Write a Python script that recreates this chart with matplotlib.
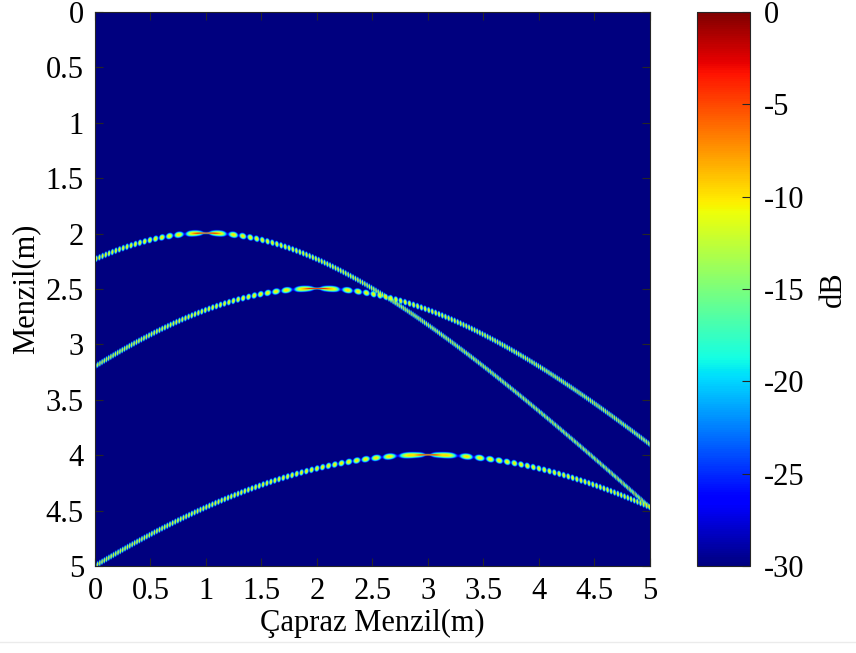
import numpy as np
import matplotlib
matplotlib.use('Agg')
import matplotlib.pyplot as plt
from matplotlib.lines import Line2D

plt.rcParams['font.family'] = ['Liberation Serif', 'DejaVu Serif']
plt.rcParams['axes.unicode_minus'] = False

# point targets (cross range, range) in metres
target_x = [1.0, 2.0, 3.0]
target_r = [2.0, 2.5, 4.0]

# scene / display settings
scene = [0, 5]
x_ticks = [0, 0.5, 1, 1.5, 2, 2.5, 3, 3.5, 4, 4.5, 5]
y_ticks = [0, 0.5, 1, 1.5, 2, 2.5, 3, 3.5, 4, 4.5, 5]
db_ticks = [-30, -25, -20, -15, -10, -5, 0]
db_min, db_max = -30, 0

# range migration image of the raw data
nx, nr = 1200, 1000
xx = np.linspace(scene[0], scene[1], nx)
rr = np.linspace(scene[0], scene[1], nr)
X, Rg = np.meshgrid(xx, rr)

A = np.zeros_like(X)
for x0, r0 in zip(target_x, target_r):
    R = np.sqrt(r0**2 + (X - x0)**2)
    dR = R - r0
    dr = Rg - R
    mod = np.abs(np.cos(np.pi * (dR - 0.0033) / 0.012))
    dip = 1 - 0.97 * np.exp(-((X - x0) / 0.045)**2)
    wide = 0.34 * np.exp(-(dr / 0.021)**2) * (0.15 + 0.85 * mod**2) * dip
    narrow = 0.7 * np.exp(-(dr / 0.005)**2) * np.exp(-((X - x0) / 0.1)**4)
    A = np.maximum(A, wide + narrow)

img = np.clip(20 * np.log10(A + 1e-6), db_min, db_max)

fig = plt.figure(figsize=(8.56, 6.53), dpi=100)
ax = fig.add_axes([0.111, 0.1332, 0.648, 0.8484])
im = ax.imshow(img, cmap='jet', vmin=db_min, vmax=db_max,
               extent=[scene[0], scene[1], scene[1], scene[0]],
               aspect='auto', interpolation='antialiased')
ax.set_xlim(scene)
ax.set_ylim(scene[1], scene[0])
ax.set_xticks(x_ticks)
ax.set_yticks(y_ticks)
ax.set_xticklabels([('%g' % t) for t in x_ticks])
ax.set_yticklabels([('%g' % t) for t in y_ticks])
ax.tick_params(direction='in', top=True, right=True, length=6,
               color='#262626', labelsize=22, pad=8)
for s in ax.spines.values():
    s.set_color('#262626')
ax.set_xlabel('Çapraz Menzil(m)', fontsize=22, labelpad=2)
ax.set_ylabel('Menzil(m)', fontsize=22, labelpad=4)

cax = fig.add_axes([0.8143, 0.1332, 0.0619, 0.8484])
cb = fig.colorbar(im, cax=cax, ticks=db_ticks)
cb.ax.set_yticklabels([str(t) for t in db_ticks])
cb.ax.tick_params(direction='in', length=6, color='#262626', labelsize=22, pad=10)
cb.outline.set_edgecolor('#262626')
cb.set_label('dB', fontsize=22, labelpad=10)

# faint page line at the bottom
fig.add_artist(Line2D([0, 1], [1 - 642 / 653, 1 - 642 / 653],
                      transform=fig.transFigure, color='#ebebeb', lw=1))

fig.savefig('out.png', dpi=100)
